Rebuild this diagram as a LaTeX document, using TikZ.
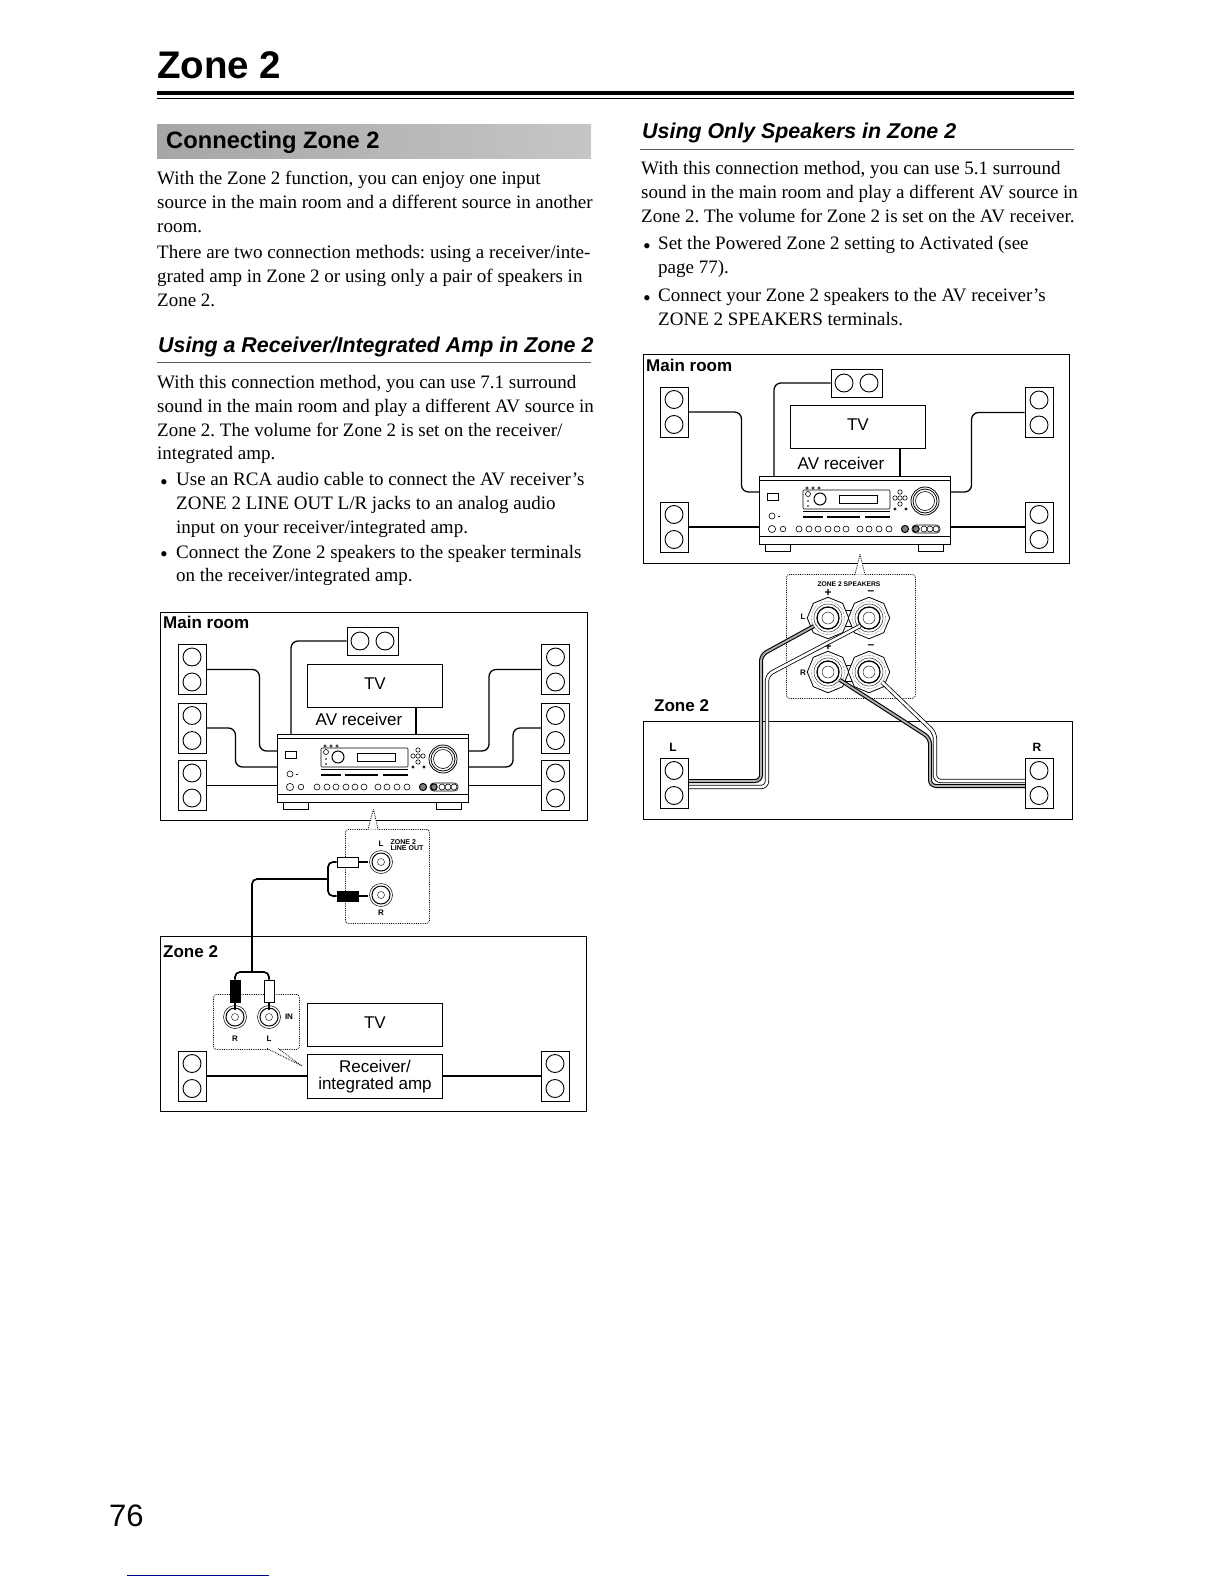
\documentclass[tikz,border=0pt]{standalone}
\usepackage{fontspec}
\setmainfont{Liberation Serif}
\setsansfont{Liberation Sans}
\usetikzlibrary{shapes.geometric}
\frenchspacing

% front panel of the receiver, #2,#3 is its top left corner
\newcommand{\frontpanel}[3]{
  \node[recvbox] (#1) at (#2,#3) {};
  \node[footbox] (#1fl) at (6,0) [xshift=#2pt,yshift=-#3pt-68pt] {};
  \node[footbox] (#1fr) at (159,0) [xshift=#2pt,yshift=-#3pt-68pt] {};
  \begin{scope}[shift={(#2,#3)},line width=.6pt]
    \draw (0,4) -- (191,4);
    \draw (0,60) -- (191,60);
    \draw (8,17) rectangle (19,24);
    \draw[rounded corners=1pt] (44,14) rectangle (131,33);
    \draw[line width=1pt] (44,35) -- (131,35);
    \draw (80,19) rectangle (118,27);
    \foreach \xa in {48,54,60} \draw (\xa,12) circle (1.2pt);
    \draw[line width=1pt] (61,23) circle (6pt);
    \draw (49,18) circle (2.5pt);
    \fill (49,25) circle (.8pt) (49,30) circle (.8pt);
    \foreach \xa/\xb in {44/64,68/101,106/131} \draw[line width=1.4pt] (\xa,41) -- (\xb,41);
    \foreach \xa/\ya in {141/16,136/22,146/22,141/22,141/28} \draw (\xa,\ya) circle (2.2pt);
    \draw (136,33) circle (1.1pt) (147,33) circle (1.1pt);
    \draw[line width=.8pt] (166,25) circle (14pt) circle (12pt);
    \draw (166,25) circle (9.5pt);
    \draw (13,40) circle (3pt);
    \draw (19,40) -- (21,40);
    \foreach \xa/\ra in {13/3.6,24/2.8,40/3,50/3,59/3,69/3,78/3,87/3,101/3,110/3,120/3,130/3} \draw (\xa,53) circle (\ra pt);
    \draw[fill=gray,line width=1pt] (146,53) circle (3.6pt);
    \draw[rounded corners=3.5pt] (153,49) rectangle (181,57);
    \draw[fill=gray,line width=1pt] (157,53) circle (3.2pt);
    \foreach \xa in {165,171,177} \draw (\xa,53) circle (3pt);
  \end{scope}
}

% one speaker terminal with its rings
\newcommand{\spkterminal}[3]{
  \node[termbox] (#1) at (#2,#3) {};
  \draw[densely dotted] (#1) circle (16.5pt);
  \draw (#1) circle (14pt);
  \draw[line width=1.3pt] (#1) circle (11pt);
  \draw (#1) circle (6pt);
}

% RCA jack
\newcommand{\rcajack}[3]{
  \node[jackbox] (#1) at (#2,#3) {};
  \draw[line width=1pt] (#1) circle (9pt);
  \draw (#1) circle (3.5pt);
}

\begin{document}
\begin{tikzpicture}[x=1pt,y=-1pt,
    bodytext/.style={font=\fontsize{19}{23.8}\selectfont, align=left, anchor=north west, inner sep=0pt, execute at begin node=\strut},
    bulletdot/.style={bodytext, font=\fontsize{22}{23.8}\selectfont},
    headtext/.style={font=\fontsize{21.4}{24}\sffamily\bfseries\itshape\selectfont, anchor=base west, inner sep=0pt},
    roombox/.style={draw, line width=1pt, anchor=north west, inner sep=0pt},
    roomlabel/.style={font=\fontsize{17}{20}\sffamily\bfseries\selectfont, anchor=base west, inner sep=0pt},
    devbox/.style={draw, line width=.9pt, fill=white, font=\fontsize{17}{20}\sffamily\selectfont, align=center, anchor=north west, inner sep=0pt},
    tvbox/.style={devbox, minimum width=135pt, minimum height=43pt, text depth=4pt},
    tinylabel/.style={font=\fontsize{8}{8}\sffamily\bfseries\selectfont, inner sep=0pt, align=left},
    spkv/.style={draw, line width=.9pt, fill=white, minimum width=28pt, minimum height=50pt, inner sep=0pt,
      path picture={\draw (path picture bounding box.center) ++(0pt,12.5pt) circle (9pt) ++(0pt,-25pt) circle (9pt);}},
    spkh/.style={draw, line width=.9pt, fill=white, minimum width=51pt, minimum height=28pt, inner sep=0pt,
      path picture={\draw (path picture bounding box.center) ++(12.5pt,0pt) circle (9pt) ++(-25pt,0pt) circle (9pt);}},
    recvbox/.style={draw, line width=.9pt, fill=white, minimum width=191pt, minimum height=68pt, anchor=north west, inner sep=0pt},
    footbox/.style={draw, line width=.9pt, fill=white, minimum width=25pt, minimum height=7pt, anchor=north west, inner sep=0pt},
    termbox/.style={draw, line width=.8pt, fill=white, regular polygon, regular polygon sides=8, minimum size=41.5pt, inner sep=0pt, shape border rotate=22.5},
    jackbox/.style={draw, line width=.5pt, circle, fill=white, minimum size=23pt, inner sep=0pt},
    calloutbox/.style={draw, densely dotted, line width=.8pt, rounded corners=3pt, anchor=north west, inner sep=0pt, fill=white},
    callouttail/.style={draw, densely dotted, line width=.8pt, fill=white},
    plugw/.style={draw, line width=.8pt, fill=white, inner sep=0pt},
    plugb/.style={draw, line width=.8pt, fill=black, inner sep=0pt},
    cordline/.style={line width=1.3pt, rounded corners=7pt},
    rcaline/.style={line width=1.7pt, rounded corners=5pt},
    wireb/.style={draw=black, double=gray!60, double distance=1.8pt, line width=1.1pt, rounded corners=6pt},
    wirew/.style={draw=black, double=white, double distance=2.6pt, line width=.8pt, rounded corners=6pt}
  ]
  \useasboundingbox (0,0) rectangle (1224,1584);

  % page head
  \node[font=\fontsize{38.5}{40}\sffamily\bfseries\selectfont, anchor=base west, inner sep=0pt] (title) at (157,78.5) {Zone 2};
  \draw[line width=3.6pt] (157,93) -- (1074,93);
  \draw[line width=1pt] (157,99) -- (1074,99);
  \node[left color=gray!70, right color=gray!45, minimum width=434pt, minimum height=34pt, inner sep=0pt, anchor=north west] (band) at (157,124) {};
  \node[font=\fontsize{23.7}{26}\sffamily\bfseries\selectfont, anchor=base west, inner sep=0pt] (bandtext) at (166,148) {Connecting Zone 2};

  % left column text
  \node[bodytext] (p1) at (157,171.2) {With the Zone 2 function, you can enjoy one input\\source in the main room and a different source in another\\room.};
  \node[bodytext] (p2) at (157,245.2) {There are two connection methods: using a receiver/inte-\\grated amp in Zone 2 or using only a pair of speakers in\\Zone 2.};
  \node[headtext] (h1) at (158,352) {Using a Receiver/Integrated Amp in Zone 2};
  \draw[line width=1pt, gray!70!black] (157,362.5) -- (591,362.5);
  \node[bodytext] (p3) at (157,375.2) {With this connection method, you can use 7.1 surround\\sound in the main room and play a different AV source in\\Zone 2. The volume for Zone 2 is set on the receiver/\\integrated amp.};
  \node[bulletdot] (d1) at (160,472.2) {•};
  \node[bodytext] (p4) at (176,472.2) {Use an RCA audio cable to connect the AV receiver’s\\ZONE 2 LINE OUT L/R jacks to an analog audio\\input on your receiver/integrated amp.};
  \node[bulletdot] (d2) at (160,544.7) {•};
  \node[bodytext] (p5) at (176,544.7) {Connect the Zone 2 speakers to the speaker terminals\\on the receiver/integrated amp.};

  % right column text
  \node[headtext] (h2) at (642,139) {Using Only Speakers in Zone 2};
  \draw[line width=1pt, gray!70!black] (640,149) -- (1074,149);
  \node[bodytext] (q1) at (641,161.2) {With this connection method, you can use 5.1 surround\\sound in the main room and play a different AV source in\\Zone 2. The volume for Zone 2 is set on the AV receiver.};
  \node[bulletdot] (e1) at (643,236.2) {•};
  \node[bodytext] (q2) at (658,236.2) {Set the Powered Zone 2 setting to Activated (see\\page 77).};
  \node[bulletdot] (e2) at (643,288.2) {•};
  \node[bodytext] (q3) at (658,288.2) {Connect your Zone 2 speakers to the AV receiver’s\\ZONE 2 SPEAKERS terminals.};

  % main room, 7.1
  \node[roombox, minimum width=427pt, minimum height=208pt] (rooma) at (160,612) {};
  \node[roomlabel] (roomalab) at (163,628) {Main room};
  \node[tvbox] (tva) at (307,664) {TV};
  \node[font=\fontsize{17}{20}\sffamily\selectfont, inner sep=0pt] (avlaba) at (359,719) {AV receiver};
  \node[spkh] (sca) at (372.5,641) {};
  \node[spkv] (sfla) at (192,669.5) {};
  \node[spkv] (ssla) at (192,728) {};
  \node[spkv] (sbla) at (192,785.5) {};
  \node[spkv] (sfra) at (555.5,669.5) {};
  \node[spkv] (ssra) at (555.5,728) {};
  \node[spkv] (sbra) at (555.5,785.5) {};
  \frontpanel{avma}{277}{734}
  \draw[cordline] (sca.west) -| ([xshift=14pt]avma.north west);
  \draw[cordline] ([xshift=139pt]avma.north west) -- ([xshift=139pt]avma.north west |- tva.south);
  \draw[cordline] (sfla.east) -- ++(53,0) |- ([yshift=-17pt]avma.north west);
  \draw[cordline] (ssla.east) -- ++(29,0) |- ([yshift=-33pt]avma.north west);
  \draw[cordline] (sbla.east) -- (sbla.east -| avma.west);
  \draw[cordline] (sfra.west) -- ++(-52,0) |- ([yshift=-17pt]avma.north east);
  \draw[cordline] (ssra.west) -- ++(-28,0) |- ([yshift=-33pt]avma.north east);
  \draw[cordline] (sbra.west) -- (sbra.west -| avma.east);

  % line out callout
  \node[calloutbox, minimum width=84pt, minimum height=94pt] (outbox) at (345,829) {};
  \draw[callouttail] (368,829.5) -- (373.5,809) -- (378,829.5);
  \rcajack{jackl}{381}{862}
  \rcajack{jackr}{381}{895}
  \node[tinylabel] (outl) at (381,844) {L};
  \node[tinylabel] (outr) at (381,913) {R};
  \node[tinylabel, font=\fontsize{7}{6.5}\sffamily\bfseries\selectfont] (outname) at (407,845) {ZONE 2\\LINE OUT};
  \node[plugw, minimum width=21pt, minimum height=10pt] (plgwa) at (347.5,862) {};
  \node[plugb, minimum width=21pt, minimum height=10pt] (plgba) at (347.5,896) {};
  \draw[line width=1.8pt] (plgwa.east) -- (368,862);
  \draw[line width=1.8pt] (plgba.east) -- (368,896);

  % zone 2 with receiver
  \node[roombox, minimum width=426pt, minimum height=175pt] (roomb) at (160,936) {};
  \node[roomlabel] (roomblab) at (163,957) {Zone 2};
  \node[tvbox] (tvb) at (307,1003) {TV};
  \node[devbox, minimum width=135pt, minimum height=44pt, font=\fontsize{17}{17.5}\sffamily\selectfont] (ampb) at (307,1054) {Receiver/\\integrated amp};
  \node[spkv] (slb) at (192,1076) {};
  \node[spkv] (srb) at (555,1076) {};
  \draw[cordline] (slb.east) -- (ampb.west |- slb.east);
  \draw[cordline] (srb.west) -- (ampb.east |- srb.west);
  \node[calloutbox, minimum width=86pt, minimum height=55pt] (inbox) at (213,994) {};
  \draw[callouttail] (267,1048.5) -- (302,1066) -- (278,1048.5);
  \rcajack{jinr}{235}{1017}
  \rcajack{jinl}{269}{1017}
  \node[tinylabel] (inname) at (289,1017) {IN};
  \node[tinylabel] (inr) at (235,1039) {R};
  \node[tinylabel] (inl) at (269,1039) {L};
  \node[plugb, minimum width=10pt, minimum height=22pt] (plgbb) at (235,991) {};
  \node[plugw, minimum width=10pt, minimum height=22pt] (plgwb) at (269,991) {};
  \draw[line width=1.8pt] (plgbb.south) -- (235,1010);
  \draw[line width=1.8pt] (plgwb.south) -- (269,1010);

  % audio cable between the two
  \coordinate (splita) at (328,879);
  \coordinate (splitb) at (252,972);
  \draw[rcaline] (plgwa.west) -| (splita) |- (plgba.west);
  \draw[rcaline] (splita) -| (splitb);
  \draw[rcaline] (plgbb.north) |- (splitb) -| (plgwb.north);

  % main room, 5.1
  \node[roombox, minimum width=426pt, minimum height=209pt] (roomc) at (643,354) {};
  \node[roomlabel] (roomclab) at (646,371) {Main room};
  \node[tvbox] (tvc) at (790,405) {TV};
  \node[font=\fontsize{17}{20}\sffamily\selectfont, inner sep=0pt] (avlabc) at (841,463) {AV receiver};
  \node[spkh] (scc) at (856.5,383) {};
  \node[spkv] (sflc) at (674,412) {};
  \node[spkv] (sblc) at (674,527) {};
  \node[spkv] (sfrc) at (1039,412.5) {};
  \node[spkv] (sbrc) at (1039,527) {};
  \frontpanel{avmc}{759}{476}
  \draw[cordline] (scc.west) -| ([xshift=15pt]avmc.north west);
  \draw[cordline] ([xshift=141pt]avmc.north west) -- ([xshift=141pt]avmc.north west |- tvc.south);
  \draw[cordline] (sflc.east) -- ++(53,0) |- ([yshift=-16pt]avmc.north west);
  \draw[cordline] (sblc.east) -- ([yshift=-51pt]avmc.north west);
  \draw[cordline] (sfrc.west) -- ++(-53,0) |- ([yshift=-16pt]avmc.north east);
  \draw[cordline] (sbrc.west) -- ([yshift=-51pt]avmc.north east);

  % speaker terminals callout
  \node[calloutbox, minimum width=129pt, minimum height=124pt] (spbox) at (786,574) {};
  \draw[callouttail] (855,574.5) -- (860,554) -- (865,574.5);
  \node[tinylabel, font=\fontsize{6.7}{7}\sffamily\bfseries\selectfont] (spname) at (849,584) {ZONE 2 SPEAKERS};
  \node[tinylabel, font=\fontsize{12}{12}\sffamily\bfseries\selectfont] (plusa) at (828,593) {+};
  \node[tinylabel, font=\fontsize{12}{12}\sffamily\bfseries\selectfont] (minusa) at (871,593) {--};
  \node[tinylabel, font=\fontsize{12}{12}\sffamily\bfseries\selectfont] (plusb) at (828,647) {+};
  \node[tinylabel, font=\fontsize{12}{12}\sffamily\bfseries\selectfont] (minusb) at (871,647) {--};
  \node[tinylabel] (spl) at (803,617) {L};
  \node[tinylabel] (spr) at (803,673) {R};
  \draw[line width=.8pt] (845,610) rectangle (852,626);
  \draw[line width=.8pt] (845,665) rectangle (852,681);
  \spkterminal{tlp}{828}{618}
  \spkterminal{tlm}{869}{618}
  \spkterminal{trp}{828}{672}
  \spkterminal{trm}{869}{672}

  % zone 2 speakers only
  \node[roombox, minimum width=429pt, minimum height=98pt] (roomd) at (643,721) {};
  \node[roomlabel] (roomdlab) at (654,711) {Zone 2};
  \node[font=\fontsize{12}{12}\sffamily\bfseries\selectfont, inner sep=0pt] (labl) at (673,747) {L};
  \node[font=\fontsize{12}{12}\sffamily\bfseries\selectfont, inner sep=0pt] (labr) at (1037,747) {R};
  \coordinate (lpa) at (814,626);
  \coordinate (lma) at (860,626);
  \coordinate (rpa) at (840,680);
  \coordinate (rma) at (882,682);
  \draw[wirew] (lma) -- (767,675) -- (767,787) -- (688,787);
  \draw[wireb] (lpa) -- (761,655) -- (761,781) -- (688,781);
  \draw[wirew] (rma) -- (935,733) -- (935,781) -- (1025,781);
  \draw[wireb] (rpa) -- (930,738) -- (930,786) -- (1025,786);
  \node[spkv] (sld) at (674,783) {};
  \node[spkv] (srd) at (1039,783) {};

  % page foot
  \node[font=\fontsize{31}{33}\sffamily\selectfont, anchor=base west, inner sep=0pt] (pageno) at (109,1526) {76};
  \draw[line width=1pt, blue!55!black] (127,1575) -- (269,1575);
\end{tikzpicture}
\end{document}
